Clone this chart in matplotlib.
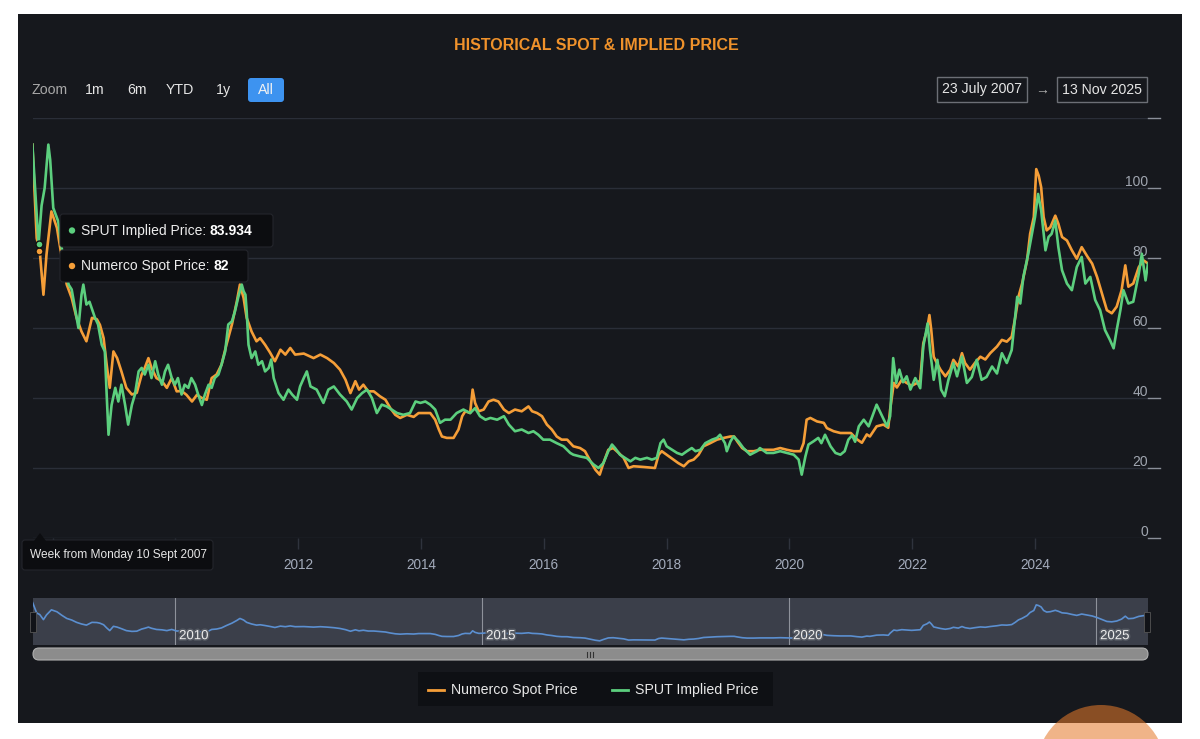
import matplotlib
matplotlib.use("Agg")
import matplotlib.pyplot as plt
import matplotlib.patches as mpatches
import matplotlib.transforms as mtransforms
import matplotlib.patheffects as pe

# ---------------- data (decimal years, price in USD/lb) ----------------
spot_dates = [
    2007.67, 2007.74, 2007.79, 2007.85, 2007.90, 2007.98, 2008.07, 2008.15, 2008.23, 2008.31,
    2008.39, 2008.47, 2008.55, 2008.64, 2008.72, 2008.77, 2008.83, 2008.88, 2008.93, 2008.99,
    2009.05, 2009.12, 2009.20, 2009.29, 2009.37, 2009.45, 2009.50, 2009.56, 2009.61, 2009.69,
    2009.78, 2009.86, 2009.94, 2010.02, 2010.10, 2010.18, 2010.27, 2010.35, 2010.43, 2010.51,
    2010.59, 2010.67, 2010.75, 2010.83, 2010.92, 2011.00, 2011.05, 2011.11, 2011.16, 2011.24,
    2011.32, 2011.38, 2011.46, 2011.54, 2011.62, 2011.71, 2011.79, 2011.87, 2011.95, 2012.09,
    2012.25, 2012.36, 2012.47, 2012.58, 2012.68, 2012.77, 2012.85, 2012.93, 2012.99, 2013.06,
    2013.14, 2013.23, 2013.33, 2013.42, 2013.50, 2013.58, 2013.66, 2013.77, 2013.88, 2013.96,
    2014.15, 2014.23, 2014.29, 2014.34, 2014.42, 2014.53, 2014.61, 2014.67, 2014.72, 2014.80,
    2014.84, 2014.88, 2014.94, 2015.02, 2015.10, 2015.18, 2015.26, 2015.35, 2015.43, 2015.53,
    2015.64, 2015.75, 2015.81, 2015.89, 2015.97, 2016.05, 2016.13, 2016.21, 2016.29, 2016.38,
    2016.48, 2016.59, 2016.67, 2016.76, 2016.84, 2016.91, 2016.97, 2017.05, 2017.13, 2017.22,
    2017.30, 2017.38, 2017.46, 2017.62, 2017.81, 2017.87, 2017.92, 2018.00, 2018.11, 2018.19,
    2018.28, 2018.36, 2018.44, 2018.52, 2018.60, 2018.71, 2018.82, 2018.93, 2019.04, 2019.10,
    2019.15, 2019.23, 2019.31, 2019.42, 2019.52, 2019.63, 2019.74, 2019.85, 2019.96, 2020.07,
    2020.18, 2020.23, 2020.28, 2020.34, 2020.45, 2020.56, 2020.61, 2020.72, 2020.83, 2020.94,
    2021.00, 2021.10, 2021.18, 2021.26, 2021.31, 2021.42, 2021.53, 2021.61, 2021.64, 2021.70,
    2021.75, 2021.83, 2021.91, 2021.99, 2022.08, 2022.13, 2022.18, 2022.24, 2022.28, 2022.31,
    2022.35, 2022.40, 2022.46, 2022.54, 2022.62, 2022.67, 2022.75, 2022.81, 2022.86, 2022.94,
    2023.02, 2023.11, 2023.19, 2023.27, 2023.38, 2023.46, 2023.54, 2023.62, 2023.68, 2023.73,
    2023.79, 2023.87, 2023.92, 2023.98, 2024.02, 2024.06, 2024.10, 2024.14, 2024.19, 2024.25,
    2024.33, 2024.38, 2024.44, 2024.52, 2024.60, 2024.68, 2024.76, 2024.85, 2024.93, 2025.01,
    2025.09, 2025.17, 2025.25, 2025.33, 2025.41, 2025.47, 2025.52, 2025.60, 2025.69, 2025.77,
    2025.84,
]
spot_values = [
    112.4, 85.7, 81.9, 69.5, 81.0, 93.3, 88.6, 80.0, 72.4, 68.6,
    62.9, 59.0, 56.2, 62.9, 62.5, 60.9, 57.1, 49.5, 42.9, 53.3,
    51.4, 47.6, 42.9, 41.0, 41.5, 46.7, 48.6, 51.4, 48.6, 45.7,
    44.8, 42.9, 45.7, 41.9, 42.0, 40.9, 39.0, 40.9, 40.0, 39.5,
    45.7, 46.7, 49.5, 55.2, 61.0, 67.6, 72.4, 68.6, 62.9, 59.0,
    56.2, 57.1, 55.2, 53.0, 50.5, 53.8, 52.4, 54.3, 52.4, 52.7,
    51.4, 52.4, 51.4, 50.0, 48.1, 45.2, 41.4, 44.8, 42.4, 43.8,
    41.9, 41.9, 40.5, 39.5, 37.1, 35.2, 34.3, 35.2, 34.6, 35.7,
    35.7, 33.8, 31.0, 29.0, 28.6, 28.6, 31.0, 34.8, 36.2, 35.7,
    42.4, 38.6, 36.2, 36.7, 39.0, 39.5, 39.0, 36.7, 35.7, 36.7,
    36.2, 37.6, 36.2, 35.7, 34.8, 32.4, 31.0, 29.0, 28.1, 28.1,
    26.2, 25.7, 24.8, 21.9, 19.5, 18.1, 21.4, 25.2, 25.7, 24.3,
    22.9, 20.0, 20.5, 20.3, 20.0, 23.8, 24.8, 23.8, 22.4, 21.4,
    20.5, 21.9, 22.4, 23.8, 26.2, 27.1, 28.1, 28.6, 29.0, 29.0,
    27.6, 25.7, 24.8, 24.8, 25.2, 25.2, 25.2, 25.7, 25.2, 24.8,
    24.8, 27.1, 33.8, 34.3, 33.3, 32.9, 31.4, 30.5, 30.0, 30.0,
    30.0, 28.2, 27.2, 29.6, 29.0, 31.9, 32.4, 31.5, 36.7, 44.3,
    43.0, 45.2, 44.3, 43.5, 44.3, 45.0, 55.6, 59.4, 63.7, 59.4,
    51.8, 50.0, 48.1, 46.2, 48.1, 50.9, 49.0, 52.8, 50.0, 48.1,
    50.0, 51.8, 51.0, 52.8, 54.7, 56.6, 56.1, 57.5, 63.2, 68.9,
    72.7, 79.3, 86.9, 91.7, 105.4, 103.5, 100.2, 91.7, 87.9, 88.8,
    92.1, 89.8, 86.0, 85.0, 82.2, 79.8, 83.1, 80.5, 78.4, 74.6,
    69.9, 65.1, 64.2, 66.1, 70.8, 77.9, 71.8, 72.7, 77.4, 79.3,
    78.4,
]

sput_dates = [
    2007.67, 2007.77, 2007.82, 2007.87, 2007.93, 2007.96, 2008.01, 2008.09, 2008.17, 2008.26,
    2008.31, 2008.37, 2008.42, 2008.47, 2008.50, 2008.55, 2008.60, 2008.69, 2008.74, 2008.80,
    2008.85, 2008.88, 2008.91, 2008.96, 2009.02, 2009.07, 2009.12, 2009.18, 2009.23, 2009.29,
    2009.34, 2009.40, 2009.45, 2009.50, 2009.56, 2009.61, 2009.67, 2009.72, 2009.78, 2009.83,
    2009.88, 2009.94, 2009.99, 2010.04, 2010.10, 2010.15, 2010.21, 2010.26, 2010.32, 2010.37,
    2010.43, 2010.48, 2010.54, 2010.59, 2010.64, 2010.70, 2010.75, 2010.81, 2010.86, 2010.92,
    2010.97, 2011.02, 2011.08, 2011.11, 2011.14, 2011.16, 2011.19, 2011.24, 2011.30, 2011.35,
    2011.41, 2011.46, 2011.52, 2011.56, 2011.60, 2011.68, 2011.76, 2011.84, 2011.90, 2011.98,
    2012.03, 2012.09, 2012.14, 2012.20, 2012.30, 2012.41, 2012.49, 2012.58, 2012.68, 2012.79,
    2012.87, 2012.96, 2013.04, 2013.12, 2013.20, 2013.28, 2013.36, 2013.44, 2013.52, 2013.61,
    2013.71, 2013.82, 2013.91, 2013.99, 2014.07, 2014.15, 2014.23, 2014.31, 2014.39, 2014.48,
    2014.58, 2014.69, 2014.80, 2014.88, 2014.96, 2015.05, 2015.13, 2015.24, 2015.35, 2015.43,
    2015.53, 2015.64, 2015.75, 2015.83, 2015.91, 2015.99, 2016.10, 2016.21, 2016.32, 2016.43,
    2016.48, 2016.59, 2016.70, 2016.81, 2016.89, 2016.97, 2017.05, 2017.11, 2017.16, 2017.24,
    2017.32, 2017.41, 2017.49, 2017.57, 2017.68, 2017.76, 2017.84, 2017.90, 2017.95, 2018.00,
    2018.09, 2018.17, 2018.25, 2018.33, 2018.41, 2018.47, 2018.55, 2018.63, 2018.74, 2018.82,
    2018.87, 2018.95, 2018.98, 2019.04, 2019.09, 2019.17, 2019.25, 2019.36, 2019.47, 2019.52,
    2019.63, 2019.74, 2019.85, 2019.96, 2020.07, 2020.15, 2020.20, 2020.26, 2020.31, 2020.39,
    2020.47, 2020.52, 2020.58, 2020.67, 2020.75, 2020.83, 2020.90, 2020.96, 2021.02, 2021.07,
    2021.13, 2021.21, 2021.29, 2021.37, 2021.42, 2021.51, 2021.59, 2021.64, 2021.69, 2021.74,
    2021.79, 2021.85, 2021.91, 2021.97, 2022.05, 2022.13, 2022.18, 2022.25, 2022.29, 2022.35,
    2022.41, 2022.47, 2022.53, 2022.59, 2022.67, 2022.73, 2022.81, 2022.89, 2022.97, 2023.05,
    2023.13, 2023.21, 2023.30, 2023.38, 2023.46, 2023.54, 2023.62, 2023.71, 2023.76, 2023.81,
    2023.89, 2023.95, 2024.00, 2024.05, 2024.10, 2024.17, 2024.22, 2024.27, 2024.33, 2024.38,
    2024.44, 2024.52, 2024.60, 2024.68, 2024.76, 2024.82, 2024.90, 2024.98, 2025.06, 2025.14,
    2025.22, 2025.28, 2025.33, 2025.39, 2025.44, 2025.52, 2025.60, 2025.69, 2025.74, 2025.80,
    2025.84,
]
sput_values = [
    112.4, 83.9, 95.0, 100.0, 112.4, 108.0, 94.3, 90.5, 80.0, 72.4,
    71.0, 65.0, 60.0, 69.5, 72.4, 66.7, 67.5, 62.9, 61.0, 55.2,
    53.3, 41.0, 29.5, 38.0, 42.9, 39.0, 43.8, 38.0, 32.4, 38.0,
    41.0, 47.6, 48.6, 46.7, 49.5, 45.7, 50.5, 46.7, 43.8, 47.6,
    49.5, 45.7, 43.8, 45.7, 41.0, 43.8, 42.9, 45.7, 43.8, 41.0,
    38.0, 41.0, 43.8, 42.9, 45.7, 46.7, 49.5, 53.3, 61.0, 61.9,
    64.8, 68.6, 72.4, 70.5, 69.5, 64.8, 55.2, 51.4, 53.3, 49.5,
    50.5, 47.6, 48.6, 51.0, 45.7, 41.4, 39.5, 42.4, 41.0, 39.5,
    43.3, 45.7, 47.6, 43.3, 42.4, 38.6, 42.4, 43.3, 41.0, 39.0,
    36.7, 40.0, 41.4, 42.4, 40.0, 35.7, 38.1, 37.6, 36.7, 35.7,
    35.2, 35.7, 39.0, 38.6, 39.0, 38.1, 36.7, 32.9, 33.8, 33.8,
    35.7, 36.7, 35.7, 37.1, 34.8, 33.8, 34.3, 33.8, 34.8, 32.4,
    30.5, 31.0, 30.0, 30.5, 29.5, 28.1, 28.1, 27.1, 26.2, 24.3,
    23.8, 23.3, 22.9, 21.0, 20.0, 21.4, 24.8, 26.7, 25.7, 23.8,
    22.9, 21.9, 22.9, 22.4, 22.9, 22.4, 22.9, 27.1, 28.1, 26.2,
    25.2, 24.3, 23.8, 24.8, 25.7, 24.8, 25.2, 27.1, 28.1, 28.6,
    29.5, 27.1, 24.8, 27.6, 29.0, 27.6, 25.7, 23.8, 24.8, 25.7,
    24.3, 24.3, 24.8, 24.3, 23.8, 22.4, 18.1, 23.3, 26.7, 27.6,
    28.6, 27.1, 29.5, 26.2, 24.3, 23.8, 24.8, 28.1, 29.3, 27.5,
    31.9, 33.8, 31.9, 35.7, 38.1, 34.8, 31.9, 34.8, 51.4, 44.3,
    48.1, 44.5, 46.2, 42.4, 45.7, 42.8, 54.7, 61.3, 53.7, 45.2,
    50.9, 42.4, 40.5, 45.2, 50.0, 46.2, 51.8, 44.3, 46.0, 50.9,
    45.2, 46.0, 49.0, 47.0, 52.8, 50.0, 53.7, 68.9, 67.0, 74.6,
    81.2, 86.9, 91.7, 98.3, 93.6, 82.2, 86.0, 86.9, 90.7, 83.1,
    76.5, 72.7, 70.8, 77.4, 80.3, 72.7, 74.6, 68.0, 65.1, 59.4,
    56.6, 54.2, 59.4, 65.1, 70.8, 67.0, 67.5, 75.5, 81.2, 73.6,
    78.4,
]

y_ticks = [0, 20, 40, 60, 80, 100, 120]
x_tick_years = [2008, 2010, 2012, 2014, 2016, 2018, 2020, 2022, 2024]
nav_years = [2010, 2015, 2020, 2025]
zoom_buttons = ["1m", "6m", "YTD", "1y"]
series_names = ["Numerco Spot Price", "SPUT Implied Price"]
hover_spot, hover_sput = 82, 83.934
hover_date = 2007.77

# ---------------- styling ----------------
ORANGE = "#f59e38"
GREEN = "#5ccf7e"
BG = "#16181d"
GRID = "#2a2e38"
FONT = "Liberation Sans"
plt.rcParams["font.family"] = [FONT, "DejaVu Sans"]

W, H = 1200, 739
fig = plt.figure(figsize=(W / 100, H / 100), dpi=100, facecolor="white")


def fx(px):
    return px / W


def fy(py):
    return 1 - py / H


def rect(x0, y0, x1, y1, **kw):
    r = mpatches.Rectangle((fx(x0), fy(y1)), fx(x1) - fx(x0), fy(y0) - fy(y1),
                           transform=fig.transFigure, **kw)
    fig.patches.append(r)
    return r


def rrect(x0, y0, x1, y1, pad=3, **kw):
    r = mpatches.FancyBboxPatch((x0, H - y1), x1 - x0, y1 - y0,
                                boxstyle=f"round,pad=0,rounding_size={pad}",
                                transform=None, **kw)
    fig.patches.append(r)
    return r


# dark chart card (drawn beneath everything)
rect(18, 14, 1182, 723, facecolor=BG, edgecolor="none", zorder=-10)

# ---------------- main axes ----------------
ax = fig.add_axes([fx(33), fy(538), (1148 - 33) / W, (538 - 118) / H])
ax.set_zorder(1)
ax.set_facecolor("none")
ax.set_xlim(2007.68, 2025.84)
ax.set_ylim(0, 120)
for s in ax.spines.values():
    s.set_visible(False)
ax.set_yticks(y_ticks)
ax.set_yticklabels([])
ax.tick_params(axis="y", length=0)
ax.grid(axis="y", color=GRID, lw=1)
ax.set_xticks(x_tick_years)
ax.set_xticklabels([])
ax.tick_params(axis="x", length=8, width=1, color="#2f333d", direction="out")

ax.plot(spot_dates, spot_values, color=ORANGE, lw=1.9, zorder=3, solid_joinstyle="round")
ax.plot(sput_dates, sput_values, color=GREEN, lw=1.9, zorder=4, solid_joinstyle="round")

# hover markers
ax.plot([hover_date], [hover_spot], "o", ms=5, color=ORANGE, mec="#111", mew=1, zorder=6)
ax.plot([hover_date], [hover_sput], "o", ms=5, color=GREEN, mec="#111", mew=1, zorder=6)

# y labels (right side) and small tick lines
ytr = ax.get_yaxis_transform()
lbl_tr = mtransforms.offset_copy(ytr, fig=fig, x=0, y=6, units="dots")
for v in y_ticks:
    ax.plot([1.0, 1.0108], [v, v], transform=ytr, color="#8a8f99", lw=1, clip_on=False)
    if v != 120:
        ax.text(1.0, v, f"{v}", transform=lbl_tr, ha="right", va="center",
                color="#a0a6b0", fontsize=10)

# x labels
xtr = ax.get_xaxis_transform()
for yr in x_tick_years:
    ax.text(yr, -0.064, f"{yr}", transform=xtr, ha="center", va="center",
            color="#a3abbb", fontsize=9.8)

# ---------------- navigator ----------------
nav = fig.add_axes([fx(33), fy(645), (1148 - 33) / W, (645 - 598) / H])
nav.set_zorder(1)
nav.set_facecolor("#3b3f4a")
nav.set_xlim(2007.68, 2025.84)
nav.set_ylim(8, 122)
for s in nav.spines.values():
    s.set_visible(False)
nav.set_xticks([])
nav.set_yticks([])
for yr in nav_years:
    nav.axvline(yr, color="#8e929b", lw=0.8, zorder=1)
    nav.text(yr, 0.06, f" {yr}", transform=nav.get_xaxis_transform(), ha="left", va="bottom",
             color="#eeeeee", fontsize=9.5, zorder=3,
             path_effects=[pe.withStroke(linewidth=2.2, foreground="#555a63")])
nav.plot(spot_dates, spot_values, color="#5b8fd0", lw=1.2, zorder=2)

# navigator handles
rect(30, 612, 36, 632, facecolor="#111318", edgecolor="#555", lw=0.6, zorder=5)
rect(1144, 612, 1150, 632, facecolor="#111318", edgecolor="#555", lw=0.6, zorder=5)

# scrollbar
rrect(33, 648, 1148, 660, pad=6, facecolor="#8c8c8c", edgecolor="#b0b0b0", lw=0.8, zorder=3)
for gx in (587, 590, 593):
    fig.add_artist(plt.Line2D([fx(gx), fx(gx)], [fy(652), fy(657)], color="#333",
                              lw=0.8, transform=fig.transFigure, zorder=4))

# ---------------- header ----------------
fig.text(fx(596), fy(46), "HISTORICAL SPOT & IMPLIED PRICE", ha="center", va="center",
         color="#f0922b", fontsize=11.5, fontweight="bold")

fig.text(fx(32), fy(90), "Zoom", ha="left", va="center", color="#a8a8a8", fontsize=10.2)
for lbl, cx in zip(zoom_buttons, [95, 137, 180, 223]):
    fig.text(fx(cx), fy(90), lbl, ha="center", va="center", color="#e6e6e6", fontsize=10.2)
rrect(248, 78, 284, 102, pad=3, facecolor="#3d93f0", edgecolor="none", zorder=2)
fig.text(fx(266), fy(90), "All", ha="center", va="center", color="#f2f2f2", fontsize=10.2,
         zorder=3)

rect(937, 77, 1027, 102, facecolor="none", edgecolor="#6c6f76", lw=1, zorder=2)
fig.text(fx(982), fy(89.5), "23 July 2007", ha="center", va="center", color="#e6e6e6",
         fontsize=10.2)
fig.text(fx(1042), fy(90), "\u2192", ha="center", va="center", color="#b0b0b0", fontsize=10)
rect(1057, 77, 1147, 102, facecolor="none", edgecolor="#6c6f76", lw=1, zorder=2)
fig.text(fx(1102), fy(89.5), "13 Nov 2025", ha="center", va="center", color="#e6e6e6",
         fontsize=10.2)

# ---------------- tooltips ----------------
renderer = fig.canvas.get_renderer()


def tooltip(x0, y0, x1, y1, dot_color, label, value):
    rrect(x0, y0, x1, y1, pad=3, facecolor="#0c0d10", edgecolor="#24262c", lw=0.8, zorder=10)
    cy = (y0 + y1) / 2
    fig.add_artist(mpatches.Circle((x0 + 12, H - cy), 3.2, transform=None,
                                   facecolor=dot_color, edgecolor="none", zorder=11))
    t = fig.text(fx(x0 + 21), fy(cy), label, ha="left", va="center", color="#ececec",
                 fontsize=10, zorder=12)
    bb = t.get_window_extent(renderer=renderer)
    fig.text(bb.x1 / W, fy(cy), value, ha="left", va="center", color="#ffffff",
             fontsize=10, fontweight="bold", zorder=12)


tooltip(60, 214, 273, 247, GREEN, "SPUT Implied Price: ", f"{hover_sput}")
tooltip(60, 250, 248, 282, ORANGE, "Numerco Spot Price: ", f"{hover_spot}")

# date tooltip at bottom
rrect(22, 540, 213, 570, pad=3, facecolor="#0c0d10", edgecolor="#24262c", lw=0.8, zorder=10)
fig.add_artist(mpatches.Polygon([(34, H - 541), (40, H - 533), (46, H - 541)], closed=True,
                                transform=None, facecolor="#0c0d10", edgecolor="none",
                                zorder=11))
fig.text(fx(30), fy(555), "Week from Monday 10 Sept 2007", ha="left", va="center",
         color="#e6e6e6", fontsize=8.6, zorder=12)

# ---------------- legend ----------------
rect(418, 672, 773, 706, facecolor="#0e1014", edgecolor="none", zorder=2)
for (lx, name, col) in [(428, series_names[0], ORANGE), (612, series_names[1], GREEN)]:
    fig.add_artist(plt.Line2D([fx(lx), fx(lx + 16)], [fy(690), fy(690)], color=col, lw=2,
                              transform=fig.transFigure, zorder=3))
    fig.text(fx(lx + 23), fy(690), name, ha="left", va="center", color="#e8e8e8",
             fontsize=10.2, zorder=3)

# orange watermark blob at bottom right
fig.add_artist(mpatches.Circle((1101, H - 770), 65, transform=None,
                               facecolor="#e57a2b", alpha=0.56, edgecolor="none", zorder=20))

fig.savefig("out.png", dpi=100, facecolor="white")
